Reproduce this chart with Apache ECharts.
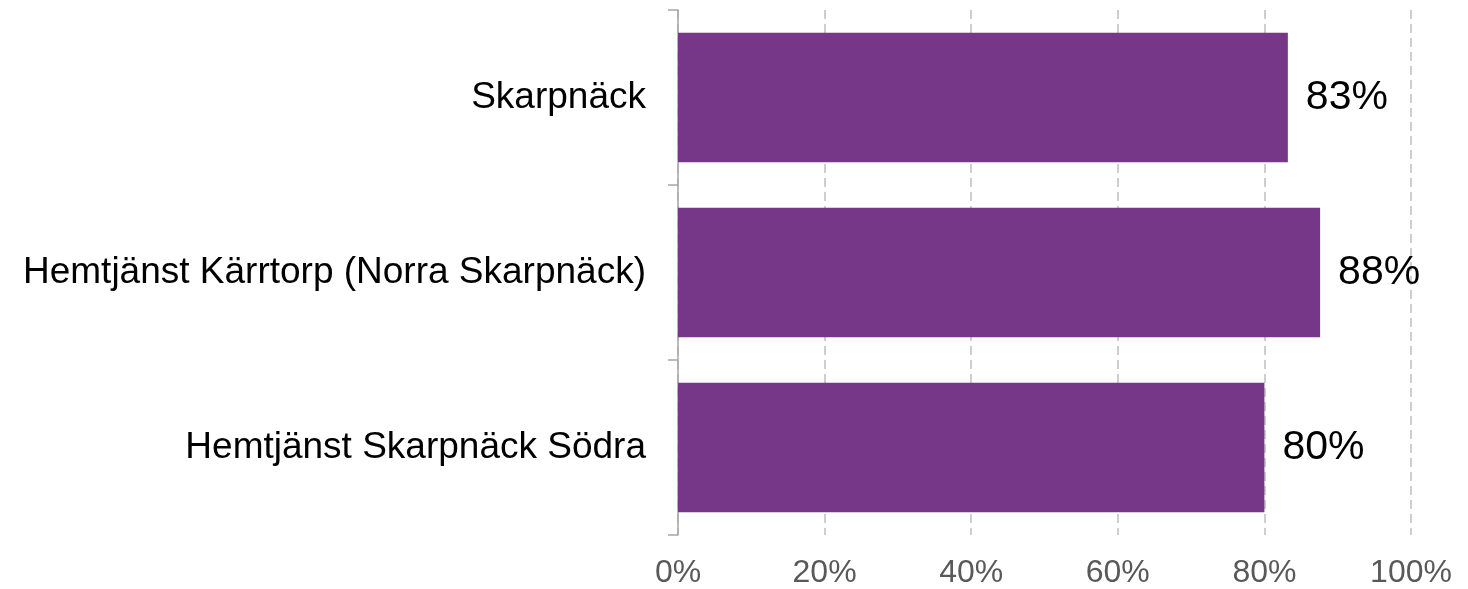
<!DOCTYPE html>
<html>
<head>
<meta charset="utf-8">
<script src="https://cdn.jsdelivr.net/npm/echarts@6/dist/echarts.min.js"></script>
<style>
html,body{margin:0;padding:0;background:#fff;}
#c{width:1468px;height:589px;}
</style>
</head>
<body>
<div id="c"></div>
<script>
const categories = ["Skarpnäck", "Hemtjänst Kärrtorp (Norra Skarpnäck)", "Hemtjänst Skarpnäck Södra"];
const values = [0.832, 0.876, 0.80];
const tickValues = [0, 0.2, 0.4, 0.6, 0.8, 1.0];

const chart = echarts.init(document.getElementById('c'), null, {renderer: 'canvas'});
chart.setOption({
  animation: false,
  backgroundColor: '#ffffff',
  grid: {left: 678, right: 57, top: 10, bottom: 54, containLabel: false},
  xAxis: {
    type: 'value',
    min: tickValues[0],
    max: tickValues[tickValues.length - 1],
    interval: 0.2,
    axisLine: {show: false},
    axisTick: {show: false},
    axisLabel: {
      formatter: v => Math.round(v * 100) + '%',
      fontFamily: 'Liberation Sans, Arial, sans-serif',
      fontSize: 32,
      color: '#595959',
      margin: 22
    },
    splitLine: {show: true, lineStyle: {color: '#BFBFBF', width: 1.5, type: [9, 5]}}
  },
  yAxis: {
    type: 'category',
    data: categories,
    inverse: true,
    axisLine: {show: true, lineStyle: {color: '#A6A6A6', width: 1.5}},
    axisTick: {show: true, length: 10, lineStyle: {color: '#A6A6A6', width: 1.5}},
    axisLabel: {
      fontFamily: 'Liberation Sans, Arial, sans-serif',
      fontSize: 37,
      color: '#000000',
      margin: 32
    },
    splitLine: {show: false}
  },
  series: [{
    type: 'bar',
    data: values,
    barCategoryGap: '26%',
    itemStyle: {color: '#763789'},
    label: {
      show: true,
      position: 'right',
      distance: 18,
      formatter: p => Math.round(p.value * 100) + '%',
      fontFamily: 'Liberation Sans, Arial, sans-serif',
      fontSize: 41,
      color: '#000000'
    }
  }]
});
</script>
</body>
</html>
